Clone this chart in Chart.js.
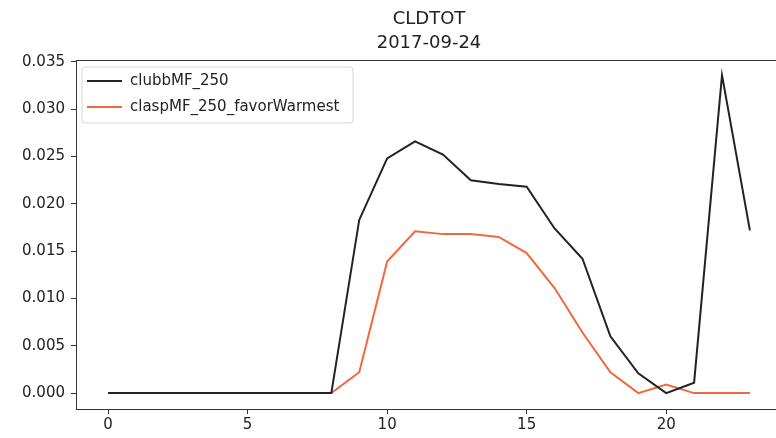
<!DOCTYPE html>
<html>
<head>
<meta charset="utf-8">
<script src="https://cdn.jsdelivr.net/npm/chart.js@4"></script>
<style>
    html, body { margin: 0; padding: 0; background: #fff; }
    #wrap { width: 776px; height: 438px; overflow: hidden; position: relative; }
    canvas { display: block; }
</style>
</head>
<body>
<div id="wrap">
    <canvas id="cldChart" width="800" height="438"></canvas>
</div>
<script>
// hours of the day
const hours = [0, 1, 2, 3, 4, 5, 6, 7, 8, 9, 10, 11, 12, 13, 14, 15, 16, 17, 18, 19, 20, 21, 22, 23];

// CLDTOT, clubbMF_250
const clubbValues = [0, 0, 0, 0, 0, 0, 0, 0, 0, 0.0183, 0.0248, 0.0266, 0.0252, 0.0225, 0.0221, 0.0218,
    0.0174, 0.0142, 0.0060, 0.0021, 0.0000, 0.0011, 0.0336, 0.0172];

// CLDTOT, claspMF_250_favorWarmest
const claspValues = [0, 0, 0, 0, 0, 0, 0, 0, 0, 0.0022, 0.0139, 0.0171, 0.0168, 0.0168, 0.0165, 0.0148,
    0.0111, 0.0064, 0.0022, 0.0000, 0.0009, 0, 0, 0];

const seriesNames = ['clubbMF_250', 'claspMF_250_favorWarmest'];
const seriesColors = ['#222222', '#f0683c'];

const xTicks = [0, 5, 10, 15, 20];
const yTicks = [0, 0.005, 0.010, 0.015, 0.020, 0.025, 0.030, 0.035];

const titleLines = ['CLDTOT', '2017-09-24'];

const FONT = "'DejaVu Sans', sans-serif";

// title, legend box and the top/right spines
const decorPlugin = {
    id: 'decor',
    afterDraw(chart) {
        const ctx = chart.ctx;
        const area = chart.chartArea;
        ctx.save();

        // frame
        ctx.strokeStyle = '#333';
        ctx.lineWidth = 1;
        ctx.strokeRect(area.left + 0.5, area.top + 0.5, area.right - area.left, area.bottom - area.top);

        // title
        const cx = (area.left + area.right) / 2;
        ctx.fillStyle = '#222';
        ctx.font = '18px ' + FONT;
        ctx.textAlign = 'center';
        ctx.textBaseline = 'middle';
        ctx.fillText(titleLines[0], cx, 19);
        ctx.fillText(titleLines[1], cx, 43);

        // legend
        const lx = 82, ly = 67, lw = 271, lh = 56, r = 3;
        ctx.beginPath();
        ctx.moveTo(lx + r, ly);
        ctx.arcTo(lx + lw, ly, lx + lw, ly + lh, r);
        ctx.arcTo(lx + lw, ly + lh, lx, ly + lh, r);
        ctx.arcTo(lx, ly + lh, lx, ly, r);
        ctx.arcTo(lx, ly, lx + lw, ly, r);
        ctx.closePath();
        ctx.fillStyle = 'rgba(255,255,255,0.8)';
        ctx.fill();
        ctx.strokeStyle = '#d6d6d6';
        ctx.stroke();

        ctx.font = '15px ' + FONT;
        ctx.textAlign = 'left';
        seriesNames.forEach((name, i) => {
            const y = 81 + i * 26;
            ctx.strokeStyle = seriesColors[i];
            ctx.lineWidth = 2;
            ctx.beginPath();
            ctx.moveTo(87, y);
            ctx.lineTo(122, y);
            ctx.stroke();
            ctx.fillStyle = '#222';
            ctx.fillText(name, 130, y);
        });
        ctx.restore();
    }
};

const ctx = document.getElementById('cldChart').getContext('2d');
new Chart(ctx, {
    type: 'line',
    data: {
        datasets: [
            {
                label: seriesNames[0],
                data: hours.map((h, i) => ({ x: h, y: clubbValues[i] })),
                borderColor: seriesColors[0],
                borderWidth: 2,
                pointRadius: 0,
                tension: 0,
                fill: false
            },
            {
                label: seriesNames[1],
                data: hours.map((h, i) => ({ x: h, y: claspValues[i] })),
                borderColor: seriesColors[1],
                borderWidth: 2,
                pointRadius: 0,
                tension: 0,
                fill: false
            }
        ]
    },
    options: {
        responsive: false,
        animation: false,
        layout: { padding: { top: 60, right: 18, bottom: 0, left: 0 } },
        plugins: {
            legend: { display: false },
            title: { display: false },
            tooltip: { enabled: false }
        },
        scales: {
            x: {
                type: 'linear',
                min: -1.15,
                max: 24.15,
                afterBuildTicks: (scale) => { scale.ticks = xTicks.map(v => ({ value: v })); },
                afterFit: (scale) => { scale.height = 29; },
                ticks: {
                    font: { family: FONT, size: 15 },
                    color: '#222',
                    padding: 2,
                    maxRotation: 0
                },
                grid: { drawOnChartArea: false, tickLength: 5, color: '#333' },
                border: { display: true, color: '#333', width: 1 }
            },
            y: {
                min: -0.00168,
                max: 0.0352,
                afterBuildTicks: (scale) => { scale.ticks = yTicks.map(v => ({ value: v })); },
                afterFit: (scale) => { scale.width = 76; },
                ticks: {
                    font: { family: FONT, size: 15 },
                    color: '#222',
                    padding: 6,
                    callback: (v) => v.toFixed(3)
                },
                grid: { drawOnChartArea: false, tickLength: 5, color: '#333' },
                border: { display: true, color: '#333', width: 1 }
            }
        }
    },
    plugins: [decorPlugin]
});
</script>
</body>
</html>
